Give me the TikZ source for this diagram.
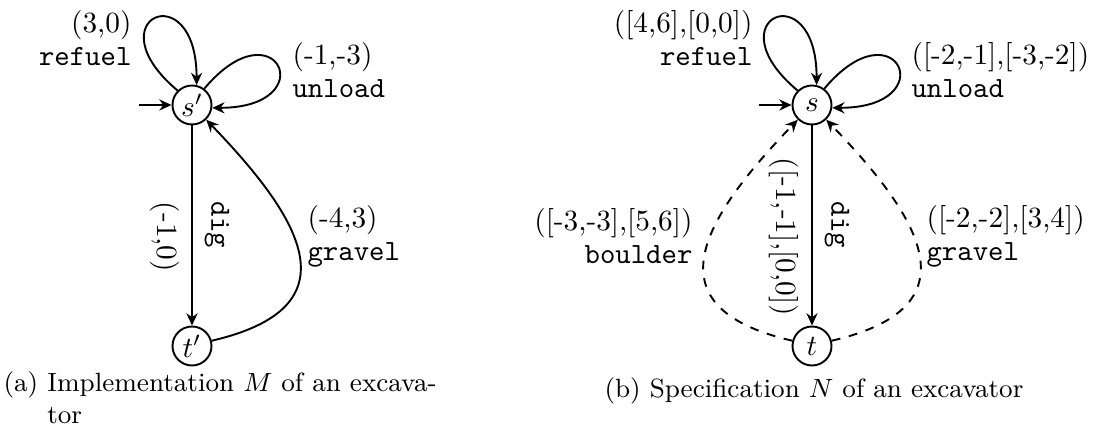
\documentclass[tikz,border=0pt]{standalone}
\usetikzlibrary{arrows.meta,shapes.geometric}
\begin{document}
\begin{tikzpicture}[x=0.341pt,y=0.341pt,
  every node/.style={font=\fontsize{10}{11.3}\selectfont},
  state/.style={draw, ellipse, inner sep=0pt, line width=0.65pt, minimum width=13.3pt, minimum height=13.3pt},
  edgeline/.style={line width=0.65pt, -{Stealth[length=4.2pt,width=3.8pt,inset=1.4pt]}},
  lbl/.style={inner sep=0pt},
  rlbl/.style={inner sep=0pt, rotate=-90},
  captext/.style={font=\fontsize{9}{11}\selectfont, inner sep=0pt}]
\useasboundingbox (0,0) rectangle (1103,437);
% ---------- (a) ----------
\node[state] (sp) at (192,332) {$s'$};
\node[state] (tp) at (192,91) {$t'$};
\coordinate (ia) at (139,332);
\draw[edgeline] (ia) -- (sp);
\draw[edgeline] (sp.135) .. controls +(140:112) and +(90:112) .. (sp.77);
\draw[edgeline] (sp.53) .. controls +(50:112) and +(0:112) .. (sp.-8);
\draw[edgeline] (sp) -- (tp);
\draw[edgeline] (tp.15) .. controls +(13:147) and +(-46:140) .. (sp.-46);
\node[lbl, anchor=east, align=right] (la1) at (132,399) {(3,0)\\\texttt{refuel}};
\node[lbl, anchor=west, align=left] (la2) at (292,367) {(-1,-3)\\\texttt{unload}};
\node[rlbl] (la3) at (165,200) {(-1,0)};
\node[rlbl] (la4) at (217,212) {\texttt{dig}};
\node[lbl, anchor=west, align=left] (la5) at (307,201) {(-4,3)\\\texttt{gravel}};
\node[captext, anchor=west, align=left] (capa) at (3,36) {(a) Implementation $M$ of an excava-\\\phantom{(a)}\ tor};
% ---------- (b) ----------
\node[state] (s) at (812,332) {$s$};
\node[state] (t) at (812,91) {$t$};
\coordinate (ib) at (759,332);
\draw[edgeline] (ib) -- (s);
\draw[edgeline] (s.135) .. controls +(140:112) and +(90:112) .. (s.77);
\draw[edgeline] (s.53) .. controls +(50:112) and +(0:112) .. (s.-8);
\draw[edgeline] (s) -- (t);
\draw[edgeline, dashed] (t.165) .. controls +(167:147) and +(-134:140) .. (s.-134);
\draw[edgeline, dashed] (t.15) .. controls +(13:147) and +(-46:140) .. (s.-46);
\node[lbl, anchor=east, align=right] (lb1) at (753,399) {([4,6],[0,0])\\\texttt{refuel}};
\node[lbl, anchor=west, align=left] (lb2) at (911,367) {([-2,-1],[-3,-2])\\\texttt{unload}};
\node[rlbl] (lb3) at (784,200) {([-1,-1],[0,0])};
\node[rlbl] (lb4) at (837,212) {\texttt{dig}};
\node[lbl, anchor=east, align=right] (lb5) at (693,201) {([-3,-3],[5,6])\\\texttt{boulder}};
\node[lbl, anchor=west, align=left] (lb6) at (926,201) {([-2,-2],[3,4])\\\texttt{gravel}};
\node[captext] (capb) at (814,46) {(b) Specification $N$ of an excavator};
\end{tikzpicture}
\end{document}
